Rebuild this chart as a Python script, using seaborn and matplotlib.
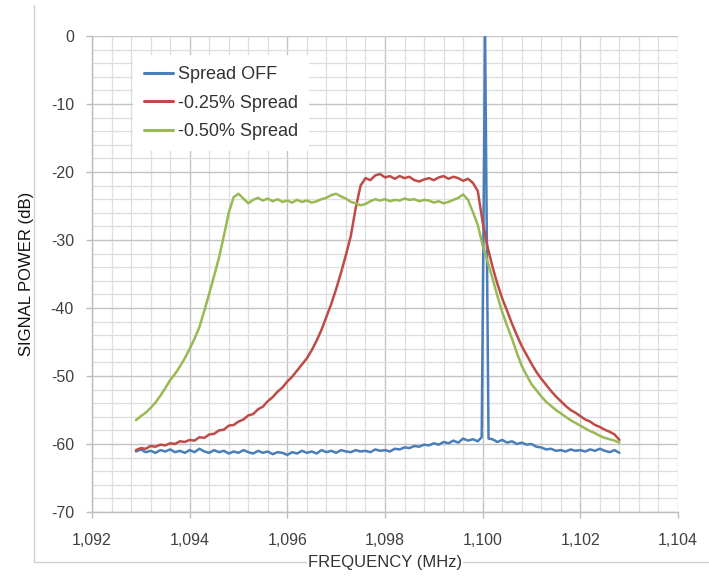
import numpy as np
import pandas as pd
import matplotlib
matplotlib.use("Agg")
import matplotlib.pyplot as plt
from matplotlib.lines import Line2D
from matplotlib.ticker import MultipleLocator, FuncFormatter
import seaborn as sns

# frequency grid shared by the two spread curves (MHz)
freq = [1092.9, 1093.0, 1093.1, 1093.2, 1093.3, 1093.4, 1093.5, 1093.6, 1093.7, 1093.8,
        1093.9, 1094.0, 1094.1, 1094.2, 1094.3, 1094.4, 1094.5, 1094.6, 1094.7, 1094.8,
        1094.9, 1095.0, 1095.1, 1095.2, 1095.3, 1095.4, 1095.5, 1095.6, 1095.7, 1095.8,
        1095.9, 1096.0, 1096.1, 1096.2, 1096.3, 1096.4, 1096.5, 1096.6, 1096.7, 1096.8,
        1096.9, 1097.0, 1097.1, 1097.2, 1097.3, 1097.4, 1097.5, 1097.6, 1097.7, 1097.8,
        1097.9, 1098.0, 1098.1, 1098.2, 1098.3, 1098.4, 1098.5, 1098.6, 1098.7, 1098.8,
        1098.9, 1099.0, 1099.1, 1099.2, 1099.3, 1099.4, 1099.5, 1099.6, 1099.7, 1099.8,
        1099.9, 1100.0, 1100.1, 1100.2, 1100.3, 1100.4, 1100.5, 1100.6, 1100.7, 1100.8,
        1100.9, 1101.0, 1101.1, 1101.2, 1101.3, 1101.4, 1101.5, 1101.6, 1101.7, 1101.8,
        1101.9, 1102.0, 1102.1, 1102.2, 1102.3, 1102.4, 1102.5, 1102.6, 1102.7, 1102.8]

spread_025 = [-60.9, -60.6, -60.7, -60.3, -60.4, -60.1, -60.2, -59.9, -60.0, -59.6,
              -59.7, -59.4, -59.5, -59.0, -59.1, -58.6, -58.5, -58.0, -57.9, -57.3,
              -57.2, -56.7, -56.4, -55.8, -55.6, -54.9, -54.5, -53.7, -53.1, -52.3,
              -51.7, -50.8, -50.1, -49.2, -48.3, -47.4, -46.2, -44.8, -43.2, -41.3,
              -39.4, -37.2, -34.8, -32.2, -29.4, -25.3, -22.0, -20.9, -21.2, -20.5,
              -20.3, -20.8, -20.6, -21.0, -20.6, -20.9, -20.7, -21.2, -21.4, -21.1,
              -20.9, -21.2, -20.8, -20.6, -21.0, -20.7, -20.9, -21.3, -21.0, -21.6,
              -22.8, -27.4, -31.0, -33.9, -36.4, -38.6, -40.4, -42.3, -44.0, -45.6,
              -46.9, -48.2, -49.4, -50.4, -51.3, -52.2, -53.0, -53.7, -54.4, -55.0,
              -55.4, -55.9, -56.4, -56.7, -57.2, -57.5, -57.9, -58.2, -58.6, -59.4]

spread_050 = [-56.5, -55.9, -55.4, -54.7, -53.9, -52.9, -51.8, -50.6, -49.7, -48.6,
              -47.4, -46.0, -44.5, -42.8, -40.4, -37.9, -35.3, -32.6, -29.4, -26.0,
              -23.7, -23.2, -23.9, -24.6, -24.1, -23.8, -24.2, -23.9, -24.3, -24.0,
              -24.4, -24.2, -24.5, -24.1, -24.4, -24.2, -24.5, -24.3, -24.0, -23.8,
              -23.4, -23.2, -23.6, -23.9, -24.4, -24.6, -24.9, -24.7, -24.3, -24.0,
              -24.2, -24.0, -24.3, -24.1, -24.2, -23.9, -24.1, -24.0, -24.3, -24.1,
              -24.2, -24.5, -24.3, -24.6, -24.4, -24.1, -23.8, -23.3, -24.1, -25.9,
              -27.8, -30.8, -33.2, -35.6, -38.2, -40.6, -42.6, -44.5, -46.6, -48.5,
              -49.9, -51.2, -52.1, -53.0, -53.8, -54.4, -55.0, -55.5, -56.0, -56.5,
              -56.9, -57.3, -57.7, -58.1, -58.4, -58.8, -59.1, -59.3, -59.5, -59.8]

# spread off: noise floor plus the narrow carrier line
freq_off = [1092.9, 1093.0, 1093.1, 1093.2, 1093.3, 1093.4, 1093.5, 1093.6, 1093.7, 1093.8,
            1093.9, 1094.0, 1094.1, 1094.2, 1094.3, 1094.4, 1094.5, 1094.6, 1094.7, 1094.8,
            1094.9, 1095.0, 1095.1, 1095.2, 1095.3, 1095.4, 1095.5, 1095.6, 1095.7, 1095.8,
            1095.9, 1096.0, 1096.1, 1096.2, 1096.3, 1096.4, 1096.5, 1096.6, 1096.7, 1096.8,
            1096.9, 1097.0, 1097.1, 1097.2, 1097.3, 1097.4, 1097.5, 1097.6, 1097.7, 1097.8,
            1097.9, 1098.0, 1098.1, 1098.2, 1098.3, 1098.4, 1098.5, 1098.6, 1098.7, 1098.8,
            1098.9, 1099.0, 1099.1, 1099.2, 1099.3, 1099.4, 1099.5, 1099.6, 1099.7, 1099.8,
            1099.9, 1099.98, 1100.05, 1100.12, 1100.2, 1100.3, 1100.4, 1100.5, 1100.6, 1100.7,
            1100.8, 1100.9, 1101.0, 1101.1, 1101.2, 1101.3, 1101.4, 1101.5, 1101.6, 1101.7,
            1101.8, 1101.9, 1102.0, 1102.1, 1102.2, 1102.3, 1102.4, 1102.5, 1102.6, 1102.7,
            1102.8]

spread_off = [-61.1, -60.8, -61.2, -61.0, -61.3, -60.9, -61.1, -60.8, -61.2, -61.0,
              -61.3, -60.9, -61.2, -60.7, -61.1, -61.3, -60.9, -61.2, -61.0, -61.4,
              -61.1, -61.3, -60.9, -61.2, -61.4, -61.0, -61.3, -61.1, -61.5, -61.2,
              -61.3, -61.6, -61.2, -61.4, -61.0, -61.3, -61.1, -61.4, -60.9, -61.2,
              -61.0, -61.3, -60.9, -61.1, -61.2, -60.9, -61.1, -61.0, -61.2, -60.8,
              -61.0, -60.9, -61.1, -60.7, -60.8, -60.5, -60.6, -60.3, -60.4, -60.1,
              -60.2, -59.9, -60.1, -59.7, -59.9, -59.5, -59.8, -59.2, -59.5, -59.3,
              -59.6, -59.0, 0.0, -59.2, -59.3, -59.7, -59.4, -59.8, -59.6, -60.0,
              -59.8, -60.1, -60.0, -60.4, -60.5, -60.8, -60.7, -61.0, -60.9, -61.1,
              -60.8, -61.0, -60.9, -61.1, -60.8, -61.0, -60.7, -61.0, -61.2, -60.9,
              -61.3]

labels = ["Spread OFF", "-0.25% Spread", "-0.50% Spread"]
colors = ["#4a7ebb", "#be4b48", "#98b954"]

sns.set_theme(style="white")
plt.rcParams["font.family"] = ["Liberation Sans", "DejaVu Sans"]
plt.rcParams["axes.unicode_minus"] = False

fig = plt.figure(figsize=(7.09, 5.77), dpi=100)
ax = fig.add_axes([92/709, 1-512/577, 586/709, 476/577])

sns.lineplot(x=freq_off, y=spread_off, ax=ax, color=colors[0], lw=1.8, label=labels[0], sort=False, estimator=None)
sns.lineplot(x=freq, y=spread_025, ax=ax, color=colors[1], lw=1.8, label=labels[1], sort=False, estimator=None)
sns.lineplot(x=freq, y=spread_050, ax=ax, color=colors[2], lw=1.8, label=labels[2], sort=False, estimator=None)

ax.set_xlim(1092, 1104)
ax.set_ylim(-70, 0)
ax.xaxis.set_major_locator(MultipleLocator(2))
ax.xaxis.set_minor_locator(MultipleLocator(0.4))
ax.yaxis.set_major_locator(MultipleLocator(10))
ax.yaxis.set_minor_locator(MultipleLocator(2))
ax.xaxis.set_major_formatter(FuncFormatter(lambda v, p: f"{v:,.0f}"))
ax.grid(which="major", color="#c4c4c4", lw=1.0)
ax.grid(which="minor", color="#dedede", lw=0.9)
ax.set_axisbelow(True)
for s in ["top", "right"]:
    ax.spines[s].set_visible(False)
for s in ["left", "bottom"]:
    ax.spines[s].set_color("#bdbdbd")
    ax.spines[s].set_linewidth(1.0)
ax.tick_params(which="major", direction="out", length=4, width=1, color="#bdbdbd",
               labelsize=11.5, labelcolor="#404040", bottom=True, left=True)
ax.tick_params(axis="x", pad=11)
ax.tick_params(axis="y", pad=9)
ax.tick_params(which="minor", length=0)

ax.set_ylabel("SIGNAL POWER (dB)", fontsize=12, color="#111111", labelpad=12)
ax.set_xlabel("FREQUENCY (MHz)", fontsize=12, color="#333333", labelpad=5,
              bbox=dict(facecolor="white", edgecolor="none", pad=1))

leg = ax.legend(loc="upper left", bbox_to_anchor=(0.07, 0.96), frameon=True,
                fontsize=13, handlelength=1.6, handletextpad=0.3, labelspacing=0.65,
                borderpad=0.6, borderaxespad=0)
leg.get_frame().set_facecolor("white")
leg.get_frame().set_edgecolor("none")
leg.get_frame().set_alpha(1)
for t in leg.get_texts():
    t.set_color("#333333")
for h in leg.get_lines():
    h.set_linewidth(2.2)

# outer chart frame lines (left and bottom)
fig.add_artist(Line2D([34/709, 34/709], [1-5/577, 1-562/577], color="#d0d0d0", lw=1, zorder=0))
fig.add_artist(Line2D([34/709, 1.0], [1-562/577, 1-562/577], color="#d0d0d0", lw=1, zorder=0))

plt.savefig("out.png", dpi=100)
